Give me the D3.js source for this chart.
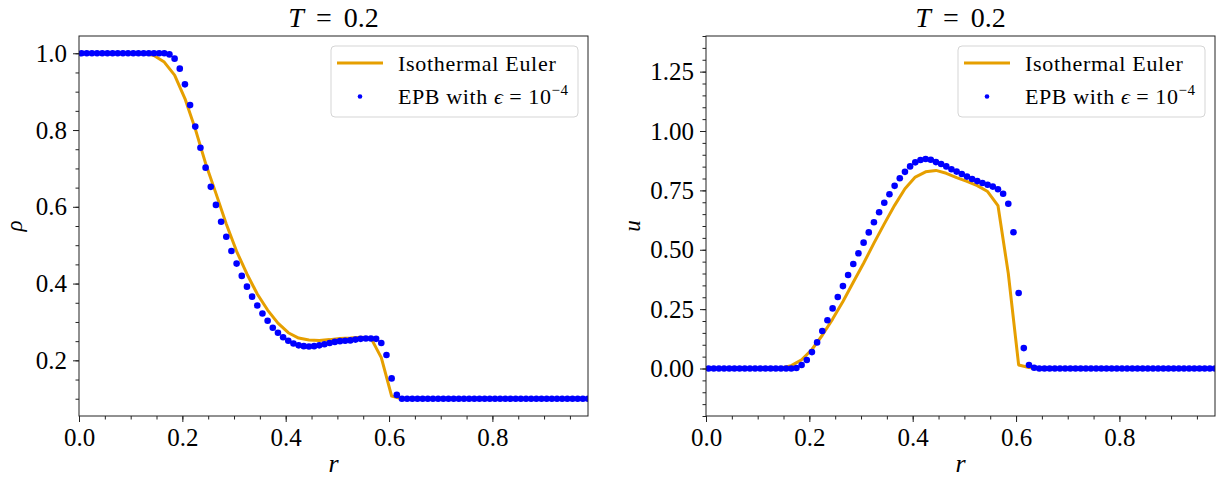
<!DOCTYPE html>
<html>
<head>
<meta charset="utf-8">
<script src="https://cdn.jsdelivr.net/npm/d3@7"></script>
<style>
  body { margin: 0; background: #fff; }
  svg text { font-family: "Liberation Serif", serif; fill: #000; }
</style>
</head>
<body>
<div id="chart"></div>
<script>
// EPB solution, eps = 1e-4 (fine grid)
var r_epb = [
  0.005, 0.015, 0.025, 0.035, 0.045, 0.055, 0.065, 0.075, 0.085, 0.095,
  0.105, 0.115, 0.125, 0.135, 0.145, 0.155, 0.165, 0.175, 0.185, 0.195,
  0.205, 0.215, 0.225, 0.235, 0.245, 0.255, 0.265, 0.275, 0.285, 0.295,
  0.305, 0.315, 0.325, 0.335, 0.345, 0.355, 0.365, 0.375, 0.385, 0.395,
  0.405, 0.415, 0.425, 0.435, 0.445, 0.455, 0.465, 0.475, 0.485, 0.495,
  0.505, 0.515, 0.525, 0.535, 0.545, 0.555, 0.565, 0.575, 0.585, 0.595,
  0.605, 0.615, 0.625, 0.635, 0.645, 0.655, 0.665, 0.675, 0.685, 0.695,
  0.705, 0.715, 0.725, 0.735, 0.745, 0.755, 0.765, 0.775, 0.785, 0.795,
  0.805, 0.815, 0.825, 0.835, 0.845, 0.855, 0.865, 0.875, 0.885, 0.895,
  0.905, 0.915, 0.925, 0.935, 0.945, 0.955, 0.965, 0.975, 0.985
];
var rho_epb = [
  1.0, 1.0, 1.0, 1.0, 1.0, 1.0, 1.0, 1.0, 1.0, 1.0,
  1.0, 1.0, 1.0, 1.0, 1.0, 1.0, 1.0, 0.997, 0.986, 0.960,
  0.919, 0.865, 0.809, 0.754, 0.702, 0.652, 0.605, 0.561, 0.522, 0.485,
  0.452, 0.420, 0.392, 0.366, 0.343, 0.322, 0.303, 0.285, 0.272, 0.260,
  0.251, 0.244, 0.239, 0.237, 0.236, 0.237, 0.239, 0.242, 0.245, 0.248,
  0.250, 0.251, 0.252, 0.254, 0.256, 0.257, 0.257, 0.256, 0.245, 0.214,
  0.153, 0.110, 0.1, 0.1, 0.1, 0.1, 0.1, 0.1, 0.1, 0.1,
  0.1, 0.1, 0.1, 0.1, 0.1, 0.1, 0.1, 0.1, 0.1, 0.1,
  0.1, 0.1, 0.1, 0.1, 0.1, 0.1, 0.1, 0.1, 0.1, 0.1,
  0.1, 0.1, 0.1, 0.1, 0.1, 0.1, 0.1, 0.1, 0.1
];
var u_epb = [
  0, 0, 0, 0, 0, 0, 0, 0, 0, 0,
  0, 0, 0, 0, 0, 0, 0, 0.002, 0.015, 0.036,
  0.069, 0.110, 0.158, 0.203, 0.253, 0.301, 0.347, 0.394, 0.440, 0.485,
  0.530, 0.573, 0.616, 0.658, 0.698, 0.734, 0.769, 0.801, 0.828, 0.851,
  0.868, 0.878, 0.882, 0.879, 0.869, 0.861, 0.851, 0.839, 0.829, 0.819,
  0.808, 0.798, 0.789, 0.781, 0.774, 0.766, 0.755, 0.736, 0.694, 0.574,
  0.318, 0.086, 0.015, 0.003, 0, 0, 0, 0, 0, 0,
  0, 0, 0, 0, 0, 0, 0, 0, 0, 0,
  0, 0, 0, 0, 0, 0, 0, 0, 0, 0,
  0, 0, 0, 0, 0, 0, 0, 0, 0
];

// isothermal Euler (coarse grid)
var r_euler = [
  0.005, 0.025, 0.045, 0.065, 0.085, 0.105, 0.125, 0.145, 0.165, 0.185,
  0.205, 0.225, 0.245, 0.265, 0.285, 0.305, 0.325, 0.345, 0.365, 0.385,
  0.405, 0.425, 0.445, 0.465, 0.485, 0.505, 0.525, 0.545, 0.565, 0.585,
  0.605, 0.625, 0.645, 0.665, 0.685, 0.705, 0.725, 0.745, 0.765, 0.785,
  0.805, 0.825, 0.845, 0.865, 0.885, 0.905, 0.925, 0.945, 0.965, 0.985
];
var rho_euler = [
  1.0, 1.0, 1.0, 1.0, 1.0, 1.0, 1.0, 0.994, 0.977, 0.943,
  0.882, 0.803, 0.713, 0.635, 0.555, 0.484, 0.425, 0.373, 0.331, 0.297,
  0.272, 0.258, 0.253, 0.252, 0.254, 0.257, 0.258, 0.260, 0.258, 0.207,
  0.107, 0.1, 0.1, 0.1, 0.1, 0.1, 0.1, 0.1, 0.1, 0.1,
  0.1, 0.1, 0.1, 0.1, 0.1, 0.1, 0.1, 0.1, 0.1, 0.1
];
var u_euler = [
  0, 0, 0, 0, 0, 0, 0, 0.002, 0.012, 0.037,
  0.080, 0.140, 0.208, 0.282, 0.363, 0.443, 0.528, 0.609, 0.687, 0.757,
  0.806, 0.828, 0.834, 0.822, 0.804, 0.788, 0.770, 0.745, 0.686, 0.400,
  0.015, 0.004, 0, 0, 0, 0, 0, 0, 0, 0,
  0, 0, 0, 0, 0, 0, 0, 0, 0, 0
];

var x_ticks = [0, 0.2, 0.4, 0.6, 0.8];
var rho_ticks = [0.2, 0.4, 0.6, 0.8, 1.0];
var u_ticks = [0, 0.25, 0.5, 0.75, 1.0, 1.25];
var title_time = "0.2";
var legend_labels = ["Isothermal Euler", "EPB with"];

var W = 1225, H = 482;
var orange = "#E69F00", blue = "#0000FF";

var svg = d3.select("#chart").append("svg")
	.attr("width", W)
	.attr("height", H);

// panel - draw one subplot
function panel(opts) {
	var left = opts.left, top = 36, width = 509, height = 380;

	var x = d3.scaleLinear().domain([0, 0.985]).range([0, width]);
	var y = d3.scaleLinear().domain(opts.ydomain).range([height, 0]);

	var g = svg.append("g")
		.attr("transform", "translate(" + left + "," + top + ")");

	g.append("clipPath").attr("id", "clip" + opts.id)
	  .append("rect").attr("width", width).attr("height", height);

	// minor ticks
	g.append("g")
		.attr("transform", "translate(0," + height + ")")
		.call(d3.axisBottom(x).tickValues(d3.range(0.05, 0.985, 0.05)).tickSize(3.5).tickFormat(""));
	g.append("g")
		.call(d3.axisLeft(y).tickValues(opts.minor).tickSize(3.5).tickFormat(""));

	// major ticks
	g.append("g")
		.attr("class", "xaxis")
		.attr("transform", "translate(0," + height + ")")
		.call(d3.axisBottom(x).tickValues(x_ticks).tickSize(6).tickPadding(6)
			.tickFormat(d3.format(".1f")));
	g.append("g")
		.attr("class", "yaxis")
		.call(d3.axisLeft(y).tickValues(opts.yticks).tickSize(6).tickPadding(6)
			.tickFormat(d3.format(opts.yfmt)));

	g.selectAll(".domain").remove();
	g.selectAll("g").attr("font-family", null).attr("font-size", null);
	g.selectAll(".tick line").attr("stroke", "#222");
	g.selectAll(".xaxis text, .yaxis text")
		.style("font-family", "'Liberation Serif', serif")
		.style("font-size", "25px");

	// euler line
	var line = d3.line()
		.x(function(d, i) { return x(r_euler[i]); })
		.y(function(d) { return y(d); });
	g.append("path")
		.datum(opts.euler)
		.attr("clip-path", "url(#clip" + opts.id + ")")
		.attr("fill", "none")
		.attr("stroke", orange)
		.attr("stroke-width", 3)
		.attr("stroke-linejoin", "round")
		.attr("d", line);

	// epb points
	g.append("g")
		.attr("clip-path", "url(#clip" + opts.id + ")")
	  .selectAll("circle")
		.data(opts.epb)
		.enter().append("circle")
		  .attr("cx", function(d, i) { return x(r_epb[i]); })
		  .attr("cy", function(d) { return y(d); })
		  .attr("r", 3.3)
		  .attr("fill", blue);

	// frame
	g.append("rect")
		.attr("width", width).attr("height", height)
		.attr("fill", "none").attr("stroke", "#222").attr("stroke-width", 1);

	// title
	var t = g.append("text")
		.attr("x", width / 2).attr("y", -9)
		.attr("text-anchor", "middle")
		.style("font-size", "28px");
	t.append("tspan").style("font-style", "italic").text("T");
	t.append("tspan").attr("dx", 12).text("=");
	t.append("tspan").attr("dx", 12).text(title_time);

	// axis labels
	g.append("text")
		.attr("x", width / 2).attr("y", height + 56)
		.attr("text-anchor", "middle")
		.style("font-size", "26px").style("font-style", "italic")
		.text("r");
	g.append("text")
		.attr("transform", "translate(" + opts.ylabx + "," + (height / 2) + ") rotate(-90)")
		.attr("text-anchor", "middle")
		.style("font-size", "23px").style("font-style", "italic")
		.text(opts.ylabel);

	// legend
	var lg = g.append("g").attr("transform", "translate(" + (width - 257) + ",10)");
	lg.append("rect")
		.attr("width", 247).attr("height", 71).attr("rx", 4)
		.attr("fill", "#fff").attr("fill-opacity", 0.8)
		.attr("stroke", "#d5d5d5").attr("stroke-width", 1);
	lg.append("line")
		.attr("x1", 6).attr("x2", 52).attr("y1", 17).attr("y2", 17)
		.attr("stroke", orange).attr("stroke-width", 3);
	lg.append("circle")
		.attr("cx", 29).attr("cy", 50.5).attr("r", 2.3).attr("fill", blue);
	lg.append("text")
		.attr("x", 67).attr("y", 24.5)
		.style("font-size", "22px").style("letter-spacing", "0.7px")
		.text(legend_labels[0]);
	var l2 = lg.append("text")
		.attr("x", 67).attr("y", 58)
		.style("font-size", "22px").style("letter-spacing", "0.6px");
	l2.append("tspan").text(legend_labels[1] + " ");
	l2.append("tspan").style("font-style", "italic").text("\u03F5");
	l2.append("tspan").attr("dx", 6).text("=");
	l2.append("tspan").attr("dx", 6).text("10");
	l2.append("tspan").attr("dy", -9).style("font-size", "15px").text("\u22124");
}

panel({
	id: "a", left: 79, ydomain: [0.055, 1.045],
	yticks: rho_ticks, yfmt: ".1f", minor: d3.range(0.1, 1.045, 0.05),
	ylabel: "\u03C1", ylabx: -57,
	euler: rho_euler, epb: rho_epb
});
panel({
	id: "b", left: 706, ydomain: [-0.2, 1.4],
	yticks: u_ticks, yfmt: ".2f", minor: d3.range(-0.2, 1.401, 0.05),
	ylabel: "u", ylabx: -66,
	euler: u_euler, epb: u_epb
});
</script>
</body>
</html>
